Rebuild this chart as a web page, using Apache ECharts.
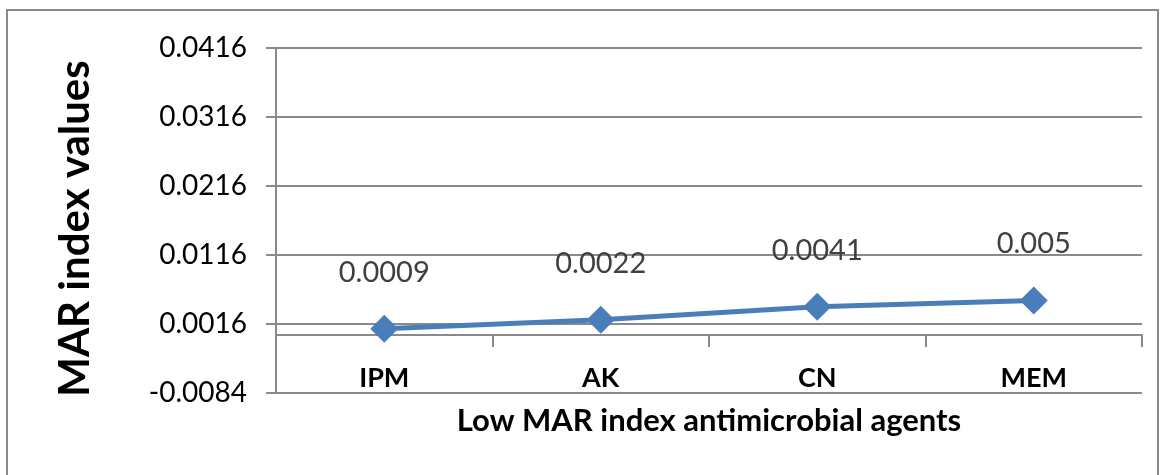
<!DOCTYPE html>
<html>
<head>
<meta charset="utf-8">
<script src="https://cdn.jsdelivr.net/npm/echarts@6/dist/echarts.min.js"></script>
<style>html,body{margin:0;padding:0;background:#fff;}#c{width:1162px;height:475px;}</style>
</head>
<body>
<div id="c"></div>
<script>
const categories = ['IPM', 'AK', 'CN', 'MEM'];
const marValues = [0.0009, 0.0022, 0.0041, 0.005];
const yMin = -0.0084, yMax = 0.0416, yStep = 0.01;
const yTitle = 'MAR index values';
const xTitle = 'Low MAR index antimicrobial agents';

const chart = echarts.init(document.getElementById('c'));
const FONT = 'Lato';
chart.setOption({
  animation: false,
  backgroundColor: '#ffffff',
  graphic: [{
    type: 'rect', shape: { x: 7, y: 10, width: 1151, height: 480 },
    style: { fill: 'none', stroke: '#8a8a8a', lineWidth: 2 }, silent: true
  }],
  grid: { left: 276, right: 20, top: 48, bottom: 82, containLabel: false, outerBoundsMode: 'none' },
  xAxis: {
    type: 'category', data: categories, boundaryGap: true,
    axisLine: { onZero: true, lineStyle: { color: '#8a8a8a', width: 2 } },
    axisTick: { show: true, length: 12, lineStyle: { color: '#8a8a8a', width: 2 } },
    axisLabel: { margin: -28, color: '#000', fontFamily: FONT, fontWeight: 'bold', fontSize: 27 },
    name: xTitle, nameLocation: 'middle', nameGap: 12,
    nameTextStyle: { color: '#000', fontFamily: FONT, fontSize: 31, fontWeight: 'bold' }
  },
  yAxis: {
    type: 'value', min: yMin, max: yMax, interval: yStep,
    axisLine: { show: true, lineStyle: { color: '#8a8a8a', width: 2 } },
    axisTick: { show: true, length: 10, inside: false, lineStyle: { color: '#8a8a8a', width: 2 } },
    splitLine: { show: true, lineStyle: { color: '#8a8a8a', width: 2 } },
    axisLabel: { margin: 29, color: '#000', fontFamily: FONT, fontSize: 28,
      formatter: v => v.toFixed(4) },
    name: yTitle, nameLocation: 'middle', nameGap: 180, nameRotate: 90,
    nameTextStyle: { color: '#000', fontFamily: FONT, fontSize: 42, fontWeight: 'bold', padding: [0, 16, 0, 0] }
  },
  series: [{
    type: 'line', data: marValues,
    symbol: 'diamond', symbolSize: 28,
    lineStyle: { color: '#4a7ebb', width: 5 },
    itemStyle: { color: '#4a7ebb' },
    label: { show: true, position: 'top', distance: 28, color: '#404040',
      fontFamily: FONT, fontSize: 29, formatter: p => String(p.value) }
  }]
});
</script>
</body>
</html>
